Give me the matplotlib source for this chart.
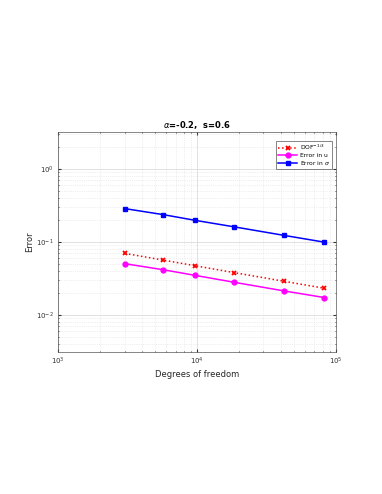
import matplotlib
matplotlib.use("Agg")
import matplotlib.pyplot as plt
from matplotlib.ticker import LogLocator, NullFormatter

dof = [3020, 5680, 9640, 18530, 42440, 82400]
ref_rate = [0.0698, 0.0566, 0.0474, 0.0381, 0.0290, 0.0233]
err_u = [0.0505, 0.0418, 0.0350, 0.0281, 0.0214, 0.0174]
err_sigma = [0.286, 0.237, 0.198, 0.161, 0.123, 0.0995]

fig = plt.figure(figsize=(3.82, 4.94), dpi=100)
ax = fig.add_axes([58.3/382, 1 - 351.7/494, (336 - 58.3)/382, (351.7 - 132.3)/494])

ax.loglog(dof, ref_rate, ':', color='red', marker='x', markersize=2.5, markeredgewidth=1.3, linewidth=1.1, label=r'DOF$^{-1/3}$')
ax.loglog(dof, err_u, '-', color='magenta', marker='o', markersize=3.5, linewidth=1.1, label='Error in u')
ax.loglog(dof, err_sigma, '-', color='blue', marker='s', markersize=3.3, linewidth=1.1, label=r'Error in $\sigma$')

ax.set_xlim(1e3, 1e5)
ax.set_ylim(10**-2.5, 10**0.5)
ax.xaxis.set_major_locator(LogLocator(base=10, numticks=10))
ax.yaxis.set_major_locator(LogLocator(base=10, numticks=10))
ax.xaxis.set_minor_locator(LogLocator(base=10, subs=range(2, 10), numticks=20))
ax.yaxis.set_minor_locator(LogLocator(base=10, subs=range(2, 10), numticks=20))
ax.xaxis.set_minor_formatter(NullFormatter())
ax.yaxis.set_minor_formatter(NullFormatter())

ax.grid(True, which='major', color='#dcdcdc', linewidth=0.6, linestyle='-')
ax.grid(True, which='minor', color='#e0e0e0', linewidth=0.5, linestyle=':')
ax.set_axisbelow(True)
for s in ax.spines.values():
    s.set_color('#555555')
    s.set_linewidth(0.5)
ax.tick_params(which='both', direction='in', top=True, right=True, labelsize=5, colors='#333333', length=2, pad=3)
ax.tick_params(which='minor', length=1)

ax.set_xlabel('Degrees of freedom', fontsize=6, color='#262626', labelpad=2)
ax.set_ylabel('Error', fontsize=6, color='#262626', labelpad=2)
ax.set_title(r'$\alpha$=-0.2,  s=0.6', fontsize=6, fontweight='bold', pad=3)

leg = ax.legend(loc='upper right', fontsize=4.3, fancybox=False, edgecolor='#555555', framealpha=1,
                borderpad=0.3, handlelength=3.2, handletextpad=0.4, labelspacing=0.15,
                bbox_to_anchor=(0.995, 0.975))
leg.get_frame().set_linewidth(0.5)

fig.savefig('out.png', dpi=100)
